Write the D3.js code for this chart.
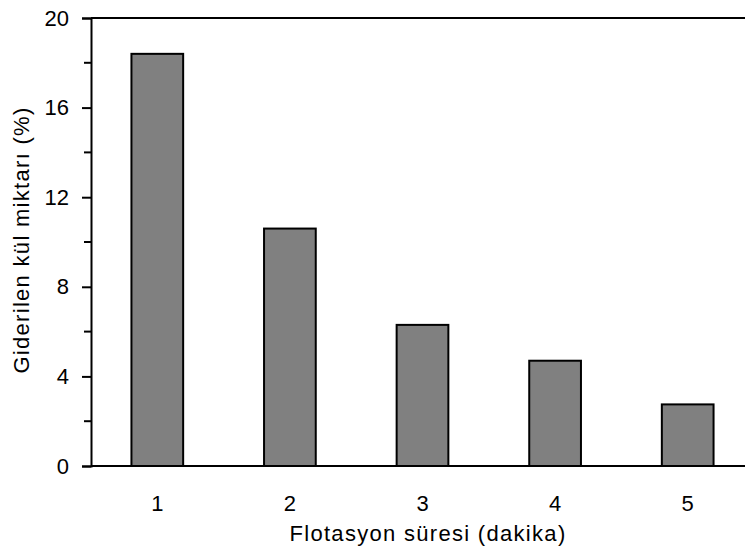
<!DOCTYPE html>
<html>
<head>
<meta charset="utf-8">
<script src="https://cdn.jsdelivr.net/npm/d3@7"></script>
<style>
  body { margin: 0; background: #fff; }
  svg { display: block; font-family: "Liberation Sans", Arial, sans-serif; }
</style>
</head>
<body>
<div id="chart"></div>
<script>
// data
const durations = ['1', '2', '3', '4', '5'];
const ashRemoved = [18.4, 10.6, 6.3, 4.7, 2.75];
const yTicks = [0, 4, 8, 12, 16, 20];
const yMinorTicks = [2, 6, 10, 14, 18];

const width = 745;
const height = 552;
const margin = { top: 18, right: -9, bottom: 86, left: 91 };

const svg = d3.select('#chart')
  .append('svg')
  .attr('width', width)
  .attr('height', height);

const x = d3.scaleBand()
  .domain(durations)
  .range([margin.left, width - margin.right])
  .paddingInner(0.61)
  .paddingOuter(0.305);

const y = d3.scaleLinear()
  .domain([0, 20])
  .range([height - margin.bottom, margin.top]);

// bars
svg.append('g')
  .selectAll('rect')
  .data(ashRemoved)
  .enter()
  .append('rect')
  .attr('x', (d, i) => x(durations[i]))
  .attr('y', d => y(d))
  .attr('width', x.bandwidth())
  .attr('height', d => y(0) - y(d))
  .attr('fill', '#808080')
  .attr('stroke', '#000')
  .attr('stroke-width', 2);

// top frame line
svg.append('line')
  .attr('x1', margin.left)
  .attr('x2', width)
  .attr('y1', y(20))
  .attr('y2', y(20))
  .attr('stroke', '#000')
  .attr('stroke-width', 2);

// y axis (major + minor ticks)
const yAxis = svg.append('g')
  .attr('transform', 'translate(' + margin.left + ',0)')
  .call(d3.axisLeft(y).tickValues(yTicks).tickSize(9).tickPadding(13).tickFormat(d3.format('d')));
yAxis.select('.domain').attr('stroke-width', 2);
yAxis.selectAll('.tick line').attr('stroke-width', 2);
yAxis.selectAll('text')
  .attr('font-size', 22)
  .attr('fill', '#000')
  .attr('font-family', '"Liberation Sans", Arial, sans-serif');

svg.append('g')
  .selectAll('line')
  .data(yMinorTicks)
  .enter()
  .append('line')
  .attr('x1', margin.left - 7)
  .attr('x2', margin.left)
  .attr('y1', d => y(d))
  .attr('y2', d => y(d))
  .attr('stroke', '#000')
  .attr('stroke-width', 2);

// x axis, no tick marks
const xAxis = svg.append('g')
  .attr('transform', 'translate(0,' + y(0) + ')')
  .call(d3.axisBottom(x).tickSize(0).tickPadding(29));
xAxis.select('.domain')
  .attr('d', 'M' + margin.left + ',0H' + width)
  .attr('stroke-width', 2);
xAxis.selectAll('text')
  .attr('font-size', 22)
  .attr('fill', '#000')
  .attr('font-family', '"Liberation Sans", Arial, sans-serif');

// axis titles
svg.append('text')
  .attr('x', 428)
  .attr('y', 541)
  .attr('text-anchor', 'middle')
  .attr('font-size', 22)
  .attr('letter-spacing', 1.3)
  .text('Flotasyon süresi (dakika)');

svg.append('text')
  .attr('transform', 'translate(29,240) rotate(-90)')
  .attr('text-anchor', 'middle')
  .attr('font-size', 22)
  .attr('letter-spacing', 1.3)
  .text('Giderilen kül miktarı (%)');
</script>
</body>
</html>
